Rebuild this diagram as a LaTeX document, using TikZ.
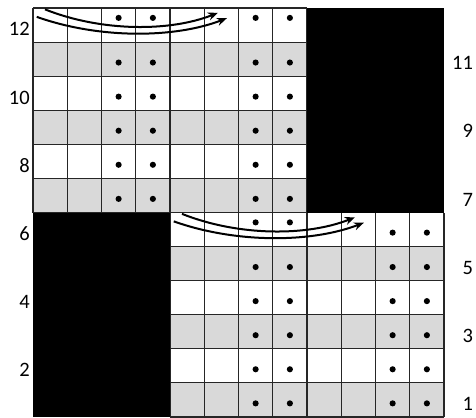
\documentclass[tikz,border=0pt]{standalone}
\usepackage{fontspec}
\setmainfont{Carlito}
\usetikzlibrary{arrows.meta}
\definecolor{cellgrey}{HTML}{D9D9D9}
\definecolor{gridline}{HTML}{262626}
\tikzset{
  gridlines/.style={draw=gridline, line width=1.1pt},
  stitchdot/.style={fill=black, draw=none},
  knitarrow/.style={line width=2pt, -{Stealth[length=10pt,width=8pt]}},
  rowlabel/.style={inner sep=0pt, font=\fontsize{20.5}{24}\selectfont}
}
\begin{document}
\begin{tikzpicture}[x=34.25pt, y=34.083pt]
\useasboundingbox (-0.9635,0) rectangle (12.934,12.2347);
% grey (odd) rows
\foreach \r in {7,9,11} \fill[cellgrey] (0,\r-1) rectangle (8,\r);
\foreach \r in {1,3,5} \fill[cellgrey] (4,\r-1) rectangle (12,\r);
% grid upper
\foreach \c in {0,...,8} \draw[gridlines] (\c,6) -- (\c,12);
\foreach \r in {6,...,12} \draw[gridlines] (0,\r) -- (8,\r);
% grid lower
\foreach \c in {4,...,12} \draw[gridlines] (\c,0) -- (\c,6);
\foreach \r in {0,...,6} \draw[gridlines] (4,\r) -- (12,\r);
% black blocks
\fill[black] (8,6) rectangle (12,12);
\fill[black] (0,0) rectangle (4,6);
% dots upper part
\foreach \r in {7,...,11} \foreach \c in {2.5,3.5,6.5,7.5}
  \fill[stitchdot] (\c,\r-0.6) circle (0.09);
\foreach \c in {2.5,3.5,6.5,7.5}
  \fill[stitchdot] (\c,11.71) circle (0.09);
% dots lower part
\foreach \r in {1,...,5} \foreach \c in {6.5,7.5,10.5,11.5}
  \fill[stitchdot] (\c,\r-0.6) circle (0.09);
\foreach \c in {6.5,7.5} \fill[stitchdot] (\c,5.71) circle (0.09);
\foreach \c in {10.5,11.5} \fill[stitchdot] (\c,5.41) circle (0.09);
% arrows upper
\coordinate (ua1) at (0.35,11.96);
\coordinate (ua2) at (5.40,11.86);
\coordinate (ub1) at (0.11,11.74);
\coordinate (ub2) at (5.66,11.70);
\draw[knitarrow] (ua1) .. controls (2.0,11.3) and (4.0,11.3) .. (ua2);
\draw[knitarrow] (ub1) .. controls (1.9,11.1) and (4.1,11.1) .. (ub2);
% arrows lower
\begin{scope}[shift={(4,-6)}]
\coordinate (la1) at (0.35,11.96);
\coordinate (la2) at (5.40,11.86);
\coordinate (lb1) at (0.11,11.74);
\coordinate (lb2) at (5.66,11.70);
\draw[knitarrow] (la1) .. controls (2.0,11.3) and (4.0,11.3) .. (la2);
\draw[knitarrow] (lb1) .. controls (1.9,11.1) and (4.1,11.1) .. (lb2);
\end{scope}
% row labels
\foreach \r in {2,4,...,12}
  \node[rowlabel, anchor=base east] (L\r) at (-0.09,\r-0.5-0.32) {\r};
\foreach \r in {1,3,...,11}
  \node[rowlabel, anchor=base east] (R\r) at (12.85,\r-0.5-0.31) {\r};
\end{tikzpicture}
\end{document}
